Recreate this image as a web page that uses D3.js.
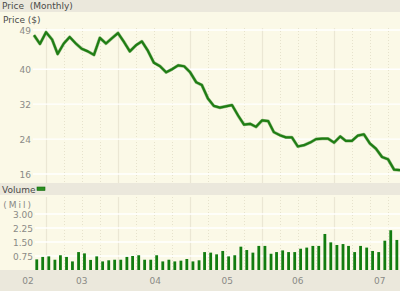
<!DOCTYPE html>
<html>
<head>
<meta charset="utf-8">
<script src="https://cdn.jsdelivr.net/npm/d3@7"></script>
<style>
  body { margin: 0; background: #ffffff; }
  svg text { font-family: "DejaVu Sans", Verdana, sans-serif; }
</style>
</head>
<body>
<div id="chart"><svg width="400" height="291"></svg></div>
<script>

// monthly closing price, Nov 2002 .. Dec 2007 (one value per month start)
const priceStart = new Date(2002, 10, 1);
const priceValues = [
    47.8, 45.8, 48.5, 46.8, 43.5, 45.9, 47.4, 45.9, 44.7, 44.1, 43.3, 47.2,
    45.9, 47.1, 48.3, 46.2, 44.1, 45.5, 46.4, 44.2, 41.5, 40.7, 39.3, 40.0,
    40.9, 40.7, 39.3, 37.0, 36.4, 33.3, 31.6, 31.2, 31.5, 31.8, 29.4, 27.3,
    27.5, 26.8, 28.3, 28.1, 25.6, 24.9, 24.4, 24.4, 22.3, 22.6, 23.2, 24.0,
    24.1, 24.1, 23.2, 24.6, 23.6, 23.6, 24.8, 25.1, 23.0, 21.8, 19.9, 19.4,
    17.0, 16.9
];

// monthly volume in millions, Nov 2002 .. Nov 2007
const volumeValues = [
    0.57, 0.70, 0.73, 0.55, 0.79, 0.70, 0.46, 0.96, 0.89, 0.54, 0.73, 0.46,
    0.52, 0.55, 0.55, 0.70, 0.75, 0.79, 0.55, 0.55, 0.79, 0.46, 0.55, 0.46,
    0.50, 0.59, 0.46, 0.52, 0.96, 0.93, 0.84, 1.02, 0.73, 0.79, 1.25, 1.07,
    0.93, 1.29, 1.29, 0.87, 0.96, 1.05, 0.96, 0.96, 1.14, 1.20, 1.29, 1.29,
    1.93, 1.48, 1.34, 1.39, 1.29, 0.96, 1.29, 1.20, 1.02, 0.96, 1.57, 2.13,
    1.61
];

const priceTicks = [49, 40, 32, 24, 16];
const volumeTicks = [3.00, 2.25, 1.50, 0.75];
const yearLabels = ["02", "03", "04", "05", "06", "07"];
const yearLabelDates = [
    new Date(2002, 9, 1), new Date(2003, 6, 1), new Date(2004, 6, 8),
    new Date(2005, 6, 8), new Date(2006, 6, 1), new Date(2007, 7, 20)
];

const priceData = priceValues.map((v, i) => ({date: d3.timeMonth.offset(priceStart, i), value: v}));
const volumeData = volumeValues.map((v, i) => ({date: d3.timeDay.offset(d3.timeMonth.offset(priceStart, i), 14), value: v}));


/**********************
***** BASIC SETUP *****
**********************/

const svg = d3.select("#chart").select("svg");

const bandColor = "#ebe8dc";
const plotColor = "#fbf9e7";
const tickColor = "#8a8a86";
const labelColor = "#4a4a48";
const green = "#1f7d14";

const priceTop = 28, priceBottom = 183;
const volTop = 197, volBottom = 270;

// backgrounds
svg.append("rect").attr("x", 0).attr("y", 0).attr("width", 400).attr("height", 291).attr("fill", bandColor);
svg.append("rect").attr("x", 0).attr("y", 12).attr("width", 400).attr("height", 171).attr("fill", plotColor);
svg.append("rect").attr("x", 0).attr("y", 195).attr("width", 400).attr("height", 75).attr("fill", plotColor);


/***********************
***** X & Y SCALES *****
***********************/

const xScale = d3.scaleTime()
    .domain([priceStart, new Date(2007, 11, 1)])
    .range([34, 400]);

const yPrice = d3.scaleLinear()
    .domain([16, 49])
    .range([174, 30]);

const yVol = d3.scaleLinear()
    .domain([0, 3])
    .range([volBottom, 214]);


/********************
***** GRIDLINES *****
********************/

const quarters = d3.timeMonth.every(3).range(new Date(2003, 0, 1), new Date(2007, 11, 2));

function drawVerticals(y1, y2) {
    svg.append("g").selectAll("line")
        .data(quarters)
        .join("line")
        .attr("x1", d => Math.round(xScale(d)) + 0.5)
        .attr("x2", d => Math.round(xScale(d)) + 0.5)
        .attr("y1", y1)
        .attr("y2", y2)
        .attr("stroke", d => d.getMonth() === 0 ? "#ebe7d4" : "#e6e2cc")
        .attr("stroke-width", d => d.getMonth() === 0 ? 1.2 : 1)
        .attr("stroke-dasharray", d => d.getMonth() === 0 ? null : "1,2");
}
drawVerticals(priceTop, priceBottom);
drawVerticals(volTop, volBottom);

svg.append("g").selectAll("line")
    .data(priceTicks)
    .join("line")
    .attr("x1", 33).attr("x2", 400)
    .attr("y1", d => yPrice(d)).attr("y2", d => yPrice(d))
    .attr("stroke", "#ffffff")
    .attr("stroke-width", 1.3);

svg.append("g").selectAll("line")
    .data(volumeTicks)
    .join("line")
    .attr("x1", 35).attr("x2", 400)
    .attr("y1", d => yVol(d)).attr("y2", d => yVol(d))
    .attr("stroke", "#ffffff")
    .attr("stroke-width", 1.3);


/*****************
***** LABELS *****
*****************/

svg.append("text").text("Price  (Monthly)")
    .attr("x", 2).attr("y", 9)
    .style("font-size", "9px").style("fill", labelColor)
    .style("white-space", "pre");

svg.append("text").text("Price ($)")
    .attr("x", 3).attr("y", 23)
    .style("font-size", "9px").style("fill", labelColor);

svg.append("g").selectAll("text")
    .data(priceTicks)
    .join("text")
    .text(d => d)
    .attr("x", 31)
    .attr("y", d => yPrice(d) + 4)
    .attr("text-anchor", "end")
    .style("font-size", "9px")
    .style("fill", tickColor);

svg.append("text").text("Volume")
    .attr("x", 2).attr("y", 193)
    .style("font-size", "9px").style("fill", labelColor);

svg.append("rect")
    .attr("x", 37).attr("y", 187)
    .attr("width", 8).attr("height", 3.5)
    .attr("fill", "#2a8f20")
    .attr("stroke", "#156b0e")
    .attr("stroke-width", 0.6);

svg.append("text").text("(Mil)")
    .attr("x", 33).attr("y", 208)
    .attr("text-anchor", "end")
    .style("font-size", "9px")
    .style("letter-spacing", "2px")
    .style("fill", tickColor);

svg.append("g").selectAll("text")
    .data(volumeTicks)
    .join("text")
    .text(d => d3.format(".2f")(d))
    .attr("x", 33)
    .attr("y", d => yVol(d) + 4)
    .attr("text-anchor", "end")
    .style("font-size", "9px")
    .style("fill", tickColor);

svg.append("g").selectAll("text")
    .data(yearLabels)
    .join("text")
    .text(d => d)
    .attr("x", (d, i) => xScale(yearLabelDates[i]))
    .attr("y", 284)
    .attr("text-anchor", "middle")
    .style("font-size", "9px")
    .style("fill", tickColor);


/***********************
***** PRICE & BARS *****
***********************/

const line = d3.line()
    .x(d => xScale(d.date))
    .y(d => yPrice(d.value));

svg.append("path")
    .datum(priceData)
    .attr("d", line)
    .attr("fill", "none")
    .attr("stroke", "#5a9a45")
    .attr("stroke-width", 3.2)
    .attr("stroke-linejoin", "round")
    .attr("opacity", 0.6);

svg.append("path")
    .datum(priceData)
    .attr("d", line)
    .attr("fill", "none")
    .attr("stroke", green)
    .attr("stroke-width", 2.2)
    .attr("stroke-linejoin", "round");

svg.append("g").selectAll("rect")
    .data(volumeData)
    .join("rect")
    .attr("x", d => xScale(d.date) - 1.4)
    .attr("y", d => yVol(d.value))
    .attr("width", 2.8)
    .attr("height", d => volBottom - yVol(d.value))
    .attr("fill", "#127c0f");

</script>
</body>
</html>
